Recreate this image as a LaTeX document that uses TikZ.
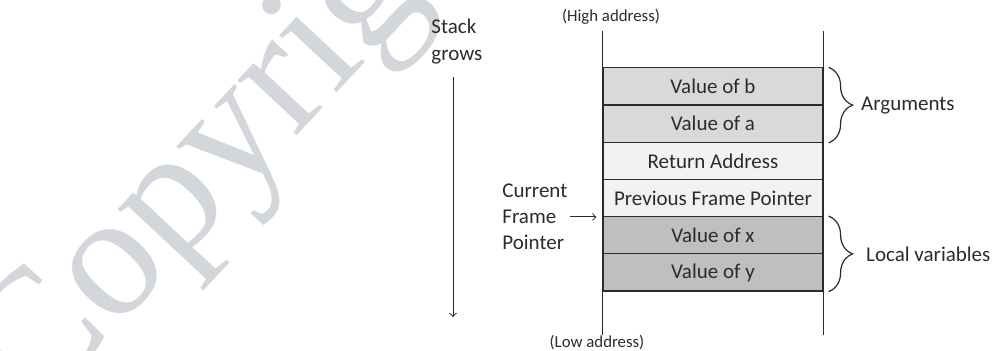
\documentclass[tikz,border=0pt]{standalone}
\usepackage{fontspec}
\setmainfont{Carlito}
\newfontfamily\wmfont{Liberation Serif}
\usetikzlibrary{matrix,positioning,decorations.pathreplacing}

\definecolor{argfill}{HTML}{D9D9D9}
\definecolor{retfill}{HTML}{F2F2F2}
\definecolor{locfill}{HTML}{BFBFBF}
\definecolor{wmgray}{HTML}{D3D6DA}
\definecolor{ink}{HTML}{2B2B2B}

\tikzset{
  txt/.style={font=\fontsize{10.5}{13.5}\selectfont, text=ink, inner sep=0pt},
  small/.style={font=\fontsize{8.4}{10}\selectfont, text=ink, inner sep=0pt},
  cell/.style={draw=ink, line width=0.6pt, minimum width=110pt, minimum height=18.6pt,
    inner sep=0pt, font=\fontsize{10.5}{12.6}\selectfont, text=ink},
  brc/.style={draw=ink, line width=0.6pt, decorate, decoration={brace, amplitude=12pt}},
}

\begin{document}
\begin{tikzpicture}[x=0.5pt,y=-0.5pt]
\useasboundingbox (0,0) rectangle (998,351);

% watermark
\begin{scope}
\clip (0,0) rectangle (998,351);
\node[anchor=base west, rotate=47, inner sep=0, text=wmgray,
  font=\wmfont\fontsize{88}{88}\selectfont] (wm) at (34,418) {Copyright};
\end{scope}

\matrix (m) at (713,179.5)
[matrix of nodes,row sep=-0.6pt,nodes={cell}]
{
|[fill=argfill]| Value of b \\
|[fill=argfill]| Value of a \\
|[fill=retfill]| Return Address \\
|[fill=retfill]| Previous Frame Pointer \\
|[fill=locfill]| Value of x \\
|[fill=locfill]| Value of y \\
};

% stack walls
\draw[ink, line width=0.6pt] ([yshift=18pt]m-1-1.north west) -- ([yshift=-21.5pt]m-6-1.south west);
\draw[ink, line width=0.6pt] ([yshift=18pt]m-1-1.north east) -- ([yshift=-21.5pt]m-6-1.south east);

\node[small] (high) at (611,17) {(High address)};
\node[small] (low) at (597,343) {(Low address)};

\node[txt, align=left, anchor=west] (grow) at (431,41.5) {Stack\\grows};
\coordinate (gtop) at (453,77);
\coordinate (gbot) at (453,317);
\draw[-to, ink, line width=0.5pt] (gtop) -- (gbot);

\node[txt, align=left, anchor=west, font=\fontsize{10.5}{13}\selectfont] (cfp) at (502,217) {Current\\Frame\\Pointer};
\draw[-to, ink, line width=0.5pt] ([xshift=1pt]cfp.east) -- ([xshift=-3pt]cfp.east -| m-5-1.west);

\draw[brc] ([xshift=2.5pt]m-1-1.north east) -- ([xshift=2.5pt]m-2-1.south east)
  node[midway, right=16pt, txt] (args) {Arguments};
\draw[brc] ([xshift=2.5pt]m-5-1.north east) -- ([xshift=2.5pt]m-6-1.south east)
  node[midway, right=18.5pt, txt] (locs) {Local variables};
\end{tikzpicture}
\end{document}
